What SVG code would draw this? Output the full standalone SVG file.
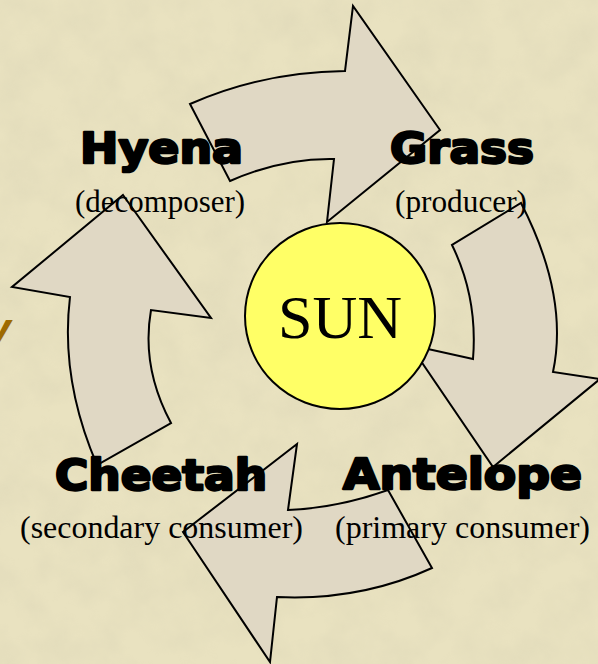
<svg xmlns="http://www.w3.org/2000/svg" width="598" height="664" viewBox="0 0 598 664">
<style>
.arrow{fill:#E0D8C4;stroke:#000;stroke-width:2;stroke-linejoin:miter}
.name{font-family:"DejaVu Sans","Liberation Sans",sans-serif;font-weight:bold;font-size:42px;fill:#000;stroke:#000;stroke-width:2.4;stroke-linejoin:round}
.role{font-family:"Liberation Serif","Times New Roman",serif;font-size:31px;fill:#000}
</style>
<defs>
<filter id="tex" x="0" y="0" width="100%" height="100%">
<feTurbulence type="fractalNoise" baseFrequency="0.025" numOctaves="4" seed="7"/>
<feColorMatrix type="matrix" values="0 0 0 0 0.55  0 0 0 0 0.52  0 0 0 0 0.38  0.9 0 0 0 -0.3"/>
</filter>
</defs>
<rect width="598" height="664" fill="#E9E2C0"/>
<rect width="598" height="664" filter="url(#tex)" opacity="0.35"/>
<text x="-12" y="340" font-family="DejaVu Sans,sans-serif" font-weight="bold" font-style="italic" font-size="36" fill="#9E6A00">y</text>
<g id="connectors">
<path id="arrow-hyena-grass" class="arrow" d="M190,104 Q262,72 345,71 L353,6 L440,130 L327,222 L334,159 Q282,158 230,181 Z"/>
<path id="arrow-grass-antelope" class="arrow" d="M521,203 Q569,296 553,372 L600,379 L493,467 L410,345 L473,359 Q478,298 452,245 Z"/>
<path id="arrow-antelope-cheetah" class="arrow" d="M388,490 L432,568 Q360,601 277,597 L270,662 L183,532 L297,444 L288,510 Q338,508 388,490 Z"/>
<path id="arrow-cheetah-hyena" class="arrow" d="M123,195 L211,318 L151,310 Q141,367 171,423 L97,465 Q60,379 70,297 L12,287 Z"/>
</g>
<g id="sun">
<ellipse cx="340" cy="316" rx="95" ry="93" fill="#FFFF66" stroke="#000" stroke-width="2"/>
<text x="340" y="338" text-anchor="middle" font-family="Liberation Serif,Times New Roman,serif" font-size="62" fill="#000">SUN</text>
</g>
<g id="hyena">
<text class="name" x="80" y="163" textLength="163" lengthAdjust="spacingAndGlyphs">Hyena</text>
<text class="role" x="75" y="212" textLength="170" lengthAdjust="spacingAndGlyphs">(decomposer)</text>
</g>
<g id="grass">
<text class="name" x="390" y="163" textLength="144" lengthAdjust="spacingAndGlyphs">Grass</text>
<text class="role" x="395" y="212" textLength="132" lengthAdjust="spacingAndGlyphs">(producer)</text>
</g>
<g id="cheetah">
<text class="name" x="55" y="490" textLength="212" lengthAdjust="spacingAndGlyphs">Cheetah</text>
<text class="role" x="20" y="538" textLength="283" lengthAdjust="spacingAndGlyphs">(secondary consumer)</text>
</g>
<g id="antelope">
<text class="name" x="343" y="489" textLength="239" lengthAdjust="spacingAndGlyphs">Antelope</text>
<text class="role" x="335" y="538" textLength="255" lengthAdjust="spacingAndGlyphs">(primary consumer)</text>
</g>
</svg>
